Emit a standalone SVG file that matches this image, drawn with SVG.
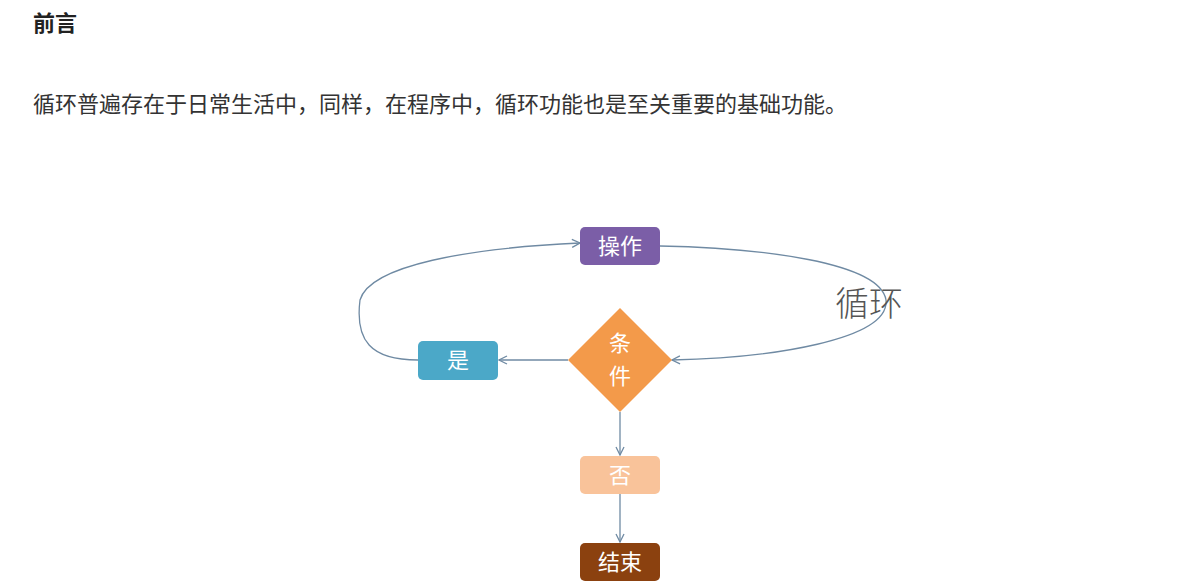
<svg xmlns="http://www.w3.org/2000/svg" width="1186" height="587" viewBox="0 0 1186 587">
<style>
.t{font-family:"Noto Sans CJK SC","Noto Sans",sans-serif}
.w{fill:#fff;font-size:22px;text-anchor:middle}
.c{fill:none;stroke:#6f8aa3;stroke-width:1.3}
</style>
<defs><marker id="a" viewBox="0 0 10 10" refX="9" refY="5" markerWidth="10" markerHeight="10" markerUnits="userSpaceOnUse" orient="auto"><path d="M1 1L9 5L1 9" fill="none" stroke="#6f8aa3" stroke-width="1.3"/></marker></defs>
<rect width="1186" height="587" fill="#fff"/>
<text class="t" x="33" y="31" font-size="22" font-weight="bold" fill="#222">前言</text>
<text class="t" x="33" y="112" font-size="22" fill="#333">循环普遍存在于日常生活中，同样，在程序中，循环功能也是至关重要的基础功能。</text>
<g id="connectors">
<path class="c" d="M660 246 C760 248 880 262 886 300 C890 340 770 358 672 360" marker-end="url(#a)"/>
<path class="c" d="M568 360 L499 360" marker-end="url(#a)"/>
<path class="c" d="M418 360 C370 360 355 340 360 300 C370 265 470 248 580 243" marker-end="url(#a)"/>
<path class="c" d="M620 412 L620 455" marker-end="url(#a)"/>
<path class="c" d="M620 494 L620 542" marker-end="url(#a)"/>
</g>
<g id="op"><rect x="580" y="227" width="80" height="38" rx="5" fill="#7b5ea7"/><text class="t w" x="620" y="254">操作</text></g>
<g id="cond"><path d="M620 308 L672 360 L620 412 L568 360Z" fill="#f39a4a"/><text class="t w" x="620" y="351">条</text><text class="t w" x="620" y="384">件</text></g>
<g id="yes"><rect x="418" y="341" width="80" height="39" rx="5" fill="#4ba8c8"/><text class="t w" x="458" y="368">是</text></g>
<g id="no"><rect x="580" y="456" width="80" height="38" rx="5" fill="#f9c39a"/><text class="t w" x="620" y="483">否</text></g>
<g id="end"><rect x="580" y="543" width="80" height="38" rx="5" fill="#8b410f"/><text class="t w" x="620" y="570">结束</text></g>
<text class="t" x="835" y="316" font-size="34" font-weight="300" fill="#555">循环</text>
</svg>
